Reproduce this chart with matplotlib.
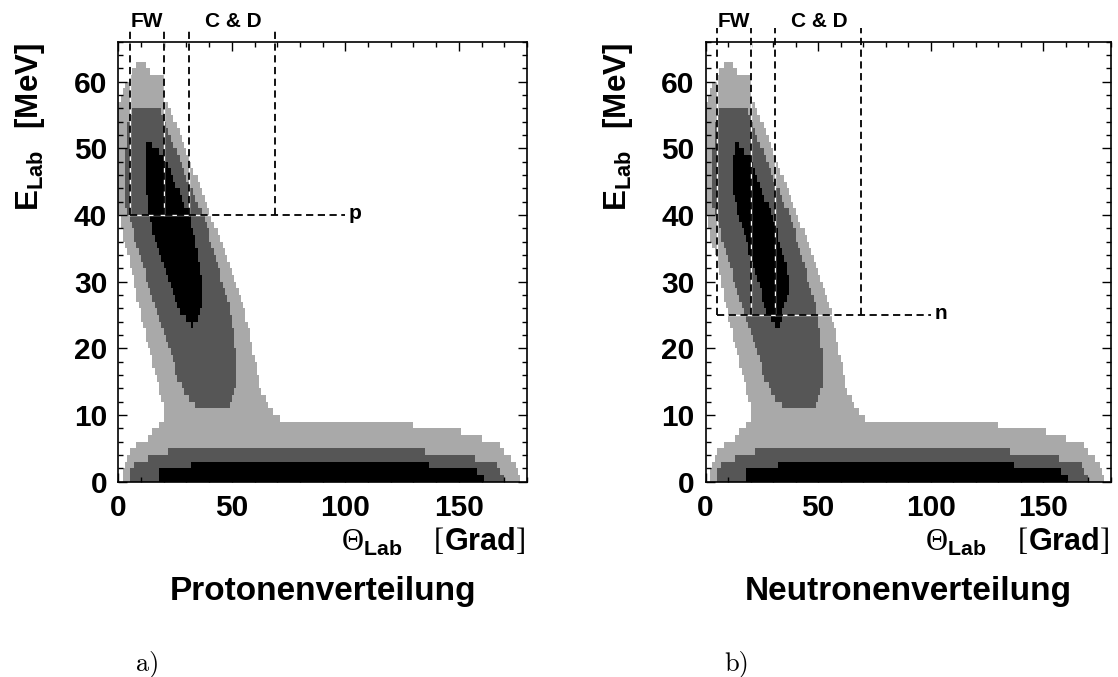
import numpy as np
import matplotlib.pyplot as plt
from matplotlib.path import Path
from matplotlib.colors import ListedColormap, BoundaryNorm
from matplotlib.ticker import MultipleLocator

plt.rcParams['font.family'] = 'Liberation Sans'
plt.rcParams['font.weight'] = 'bold'
plt.rcParams['mathtext.fontset'] = 'custom'
plt.rcParams['mathtext.rm'] = 'Liberation Serif:weight=normal'
plt.rcParams['mathtext.bf'] = 'Liberation Sans:bold'

# histogram binning (Grad, MeV)
theta_edges = np.arange(0, 181, 1)
e_edges = np.arange(0, 67, 1)

# contour outlines, (theta, E)
# level 1 (light grey) - ridge and floor band joined
light_outline = [
    (1.5, 0), (2.5, 2.5), (4.5, 4.2), (7, 5.3), (12, 6.3), (16, 7.8), (19.5, 9),
    (20.5, 11), (18, 14), (15.6, 17.2), (13, 20.5), (10.9, 23.7), (8.5, 27),
    (6.9, 30.1), (4.5, 33.5), (2.2, 36.6), (0.5, 40), (-1, 41), (-1, 56),
    (1, 57.5), (3, 59.5), (5.3, 61), (8, 62.5), (12, 62.5), (14, 61.5),
    (19.5, 61), (20.3, 57.4), (26.6, 52.8), (33.7, 46.3), (40.7, 39.9),
    (48.6, 33.4), (54.9, 26.9), (58.8, 20.4), (62.8, 13.9), (67.5, 10.7),
    (72, 9.2), (86, 8.8), (129, 8.7), (135, 7.8), (151, 7.5), (160, 6.5),
    (168, 5.5), (174, 3), (178, 0),
]
# level 2 (dark grey)
dark_ridge = [
    (6, 56), (3.8, 52.8), (3, 46.3), (3, 41.8), (4.6, 39.9), (10, 33.4),
    (15.6, 26.9), (21.9, 20.4), (26.6, 15.2), (31.3, 12), (36, 11), (44, 10.8),
    (49, 11.5), (51.5, 13.9), (51.5, 20.4), (48.6, 26.9), (43, 33.4),
    (37.5, 39.9), (29, 46.3), (22, 52.8), (18.7, 56), (14, 56.5),
]
dark_floor = [
    (4.5, 0), (4.5, 2), (10, 3), (17, 4.2), (25, 4.7), (33, 5), (124, 5),
    (135, 4.5), (149, 4), (160, 3.3), (166, 2.9), (171, 0),
]
# level 3 (black)
black_floor = [
    (17.5, 0), (17.5, 2), (30, 2.2), (35, 3), (130, 3), (140, 2.3), (155, 2),
    (161, 1), (161, 0),
]
black_ridge_p = [
    (12.5, 51), (11.5, 48.3), (11.8, 45), (13.5, 40), (16, 36.6), (19.5, 33.4),
    (22.5, 30.1), (26, 26.9), (27, 25), (30.5, 24.5), (32.5, 23), (34.5, 24.5),
    (37, 26.9), (37, 30), (35.5, 33.4), (31.5, 39.9), (27, 43.1),
    (21, 48.3), (15, 50.5),
]
black_ridge_n = [
    (13.6, 51), (12, 48.3), (12.5, 43.1), (14.5, 40), (17.5, 36.6), (20.5, 33.4),
    (23.5, 30.1), (26.5, 25.6), (29.5, 24), (32, 23), (34, 25), (35.5, 27),
    (37, 28.5), (36.5, 31), (35, 33.4), (29.5, 39.9), (22, 46.3), (20.5, 48.3),
    (15, 50.5),
]

# detector acceptance (FW, C & D) and energy thresholds
det_edges = [5, 20, 31, 69]
cut_p = 40
cut_n = 25

colors = ['white', '#a9a9a9', '#565656', 'black']
cmap = ListedColormap(colors)
norm = BoundaryNorm([-0.5, 0.5, 1.5, 2.5, 3.5], cmap.N)


def level_map(levels):
    tc = 0.5 * (theta_edges[:-1] + theta_edges[1:])
    ec = 0.5 * (e_edges[:-1] + e_edges[1:])
    tt, ee = np.meshgrid(tc, ec)
    pts = np.column_stack([tt.ravel(), ee.ravel()])
    lev = np.zeros(len(pts))
    for value, outlines in levels:
        for poly in outlines:
            inside = Path(poly + [poly[0]]).contains_points(pts)
            lev[inside] = value
    return lev.reshape(tt.shape)


def draw_panel(ax, black_ridge, cut, tag, title):
    lev = level_map([(1, [light_outline]),
                     (2, [dark_ridge, dark_floor]),
                     (3, [black_ridge, black_floor])])
    ax.pcolormesh(theta_edges, e_edges, lev, cmap=cmap, norm=norm)

    dash = (0, (4, 2.5))
    for th in det_edges:
        ax.plot([th, th], [cut, 68], color='white', lw=1.0, clip_on=False)
        ax.plot([th, th], [cut, 68], color='black', lw=1.3, ls=dash, clip_on=False)
    ax.plot([5, 100], [cut, cut], color='white', lw=1.0)
    ax.plot([5, 100], [cut, cut], color='black', lw=1.3, ls=dash)
    ax.text(101.5, cut - 0.6, tag, fontsize=15, ha='left', va='baseline')
    ax.text(12.5, 69, 'FW', fontsize=15, ha='center', va='center')
    ax.text(50.5, 69, 'C & D', fontsize=15, ha='center', va='center')

    ax.set_xlim(0, 180)
    ax.set_ylim(0, 66)
    ax.set_xticks([0, 50, 100, 150])
    ax.set_yticks(np.arange(0, 61, 10))
    ax.xaxis.set_minor_locator(MultipleLocator(10))
    ax.yaxis.set_minor_locator(MultipleLocator(2))
    ax.tick_params(which='both', direction='in', top=True, right=True,
                   width=1.0, labelsize=21.5)
    ax.tick_params(which='major', length=6.5)
    ax.tick_params(which='minor', length=3.5)
    ax.tick_params(axis='x', pad=9)
    ax.tick_params(axis='y', pad=8)
    for sp in ax.spines.values():
        sp.set_linewidth(1.2)

    ax.text(-0.215, 0.997, r'$\mathbf{E}_{\mathbf{Lab}}\ \ \mathbf{[MeV]}$',
            rotation=90, fontsize=22.5, ha='center', va='top', transform=ax.transAxes)
    ax.text(0.995, -0.1575, r'$\Theta_{\mathbf{Lab}}\quad[\mathbf{Grad}]$',
            fontsize=22, ha='right', va='baseline', transform=ax.transAxes)
    ax.text(0.5, -0.269, title, fontsize=24, ha='center', va='baseline',
            transform=ax.transAxes)


fig = plt.figure(figsize=(11.18, 6.77), dpi=100)
ax1 = fig.add_axes([118.3 / 1118, 195.3 / 677, 408.7 / 1118, 440 / 677])
ax2 = fig.add_axes([705.5 / 1118, 195.3 / 677, 405.5 / 1118, 440 / 677])

draw_panel(ax1, black_ridge_p, cut_p, 'p', 'Protonenverteilung')
draw_panel(ax2, black_ridge_n, cut_n, 'n', 'Neutronenverteilung')

fig.text(148 / 1118, 13 / 677, 'a)', family='cmr10', fontweight='normal',
         fontsize=19, ha='center', va='center')
fig.text(737 / 1118, 13 / 677, 'b)', family='cmr10', fontweight='normal',
         fontsize=19, ha='center', va='center')

fig.savefig('out.png', dpi=100)
